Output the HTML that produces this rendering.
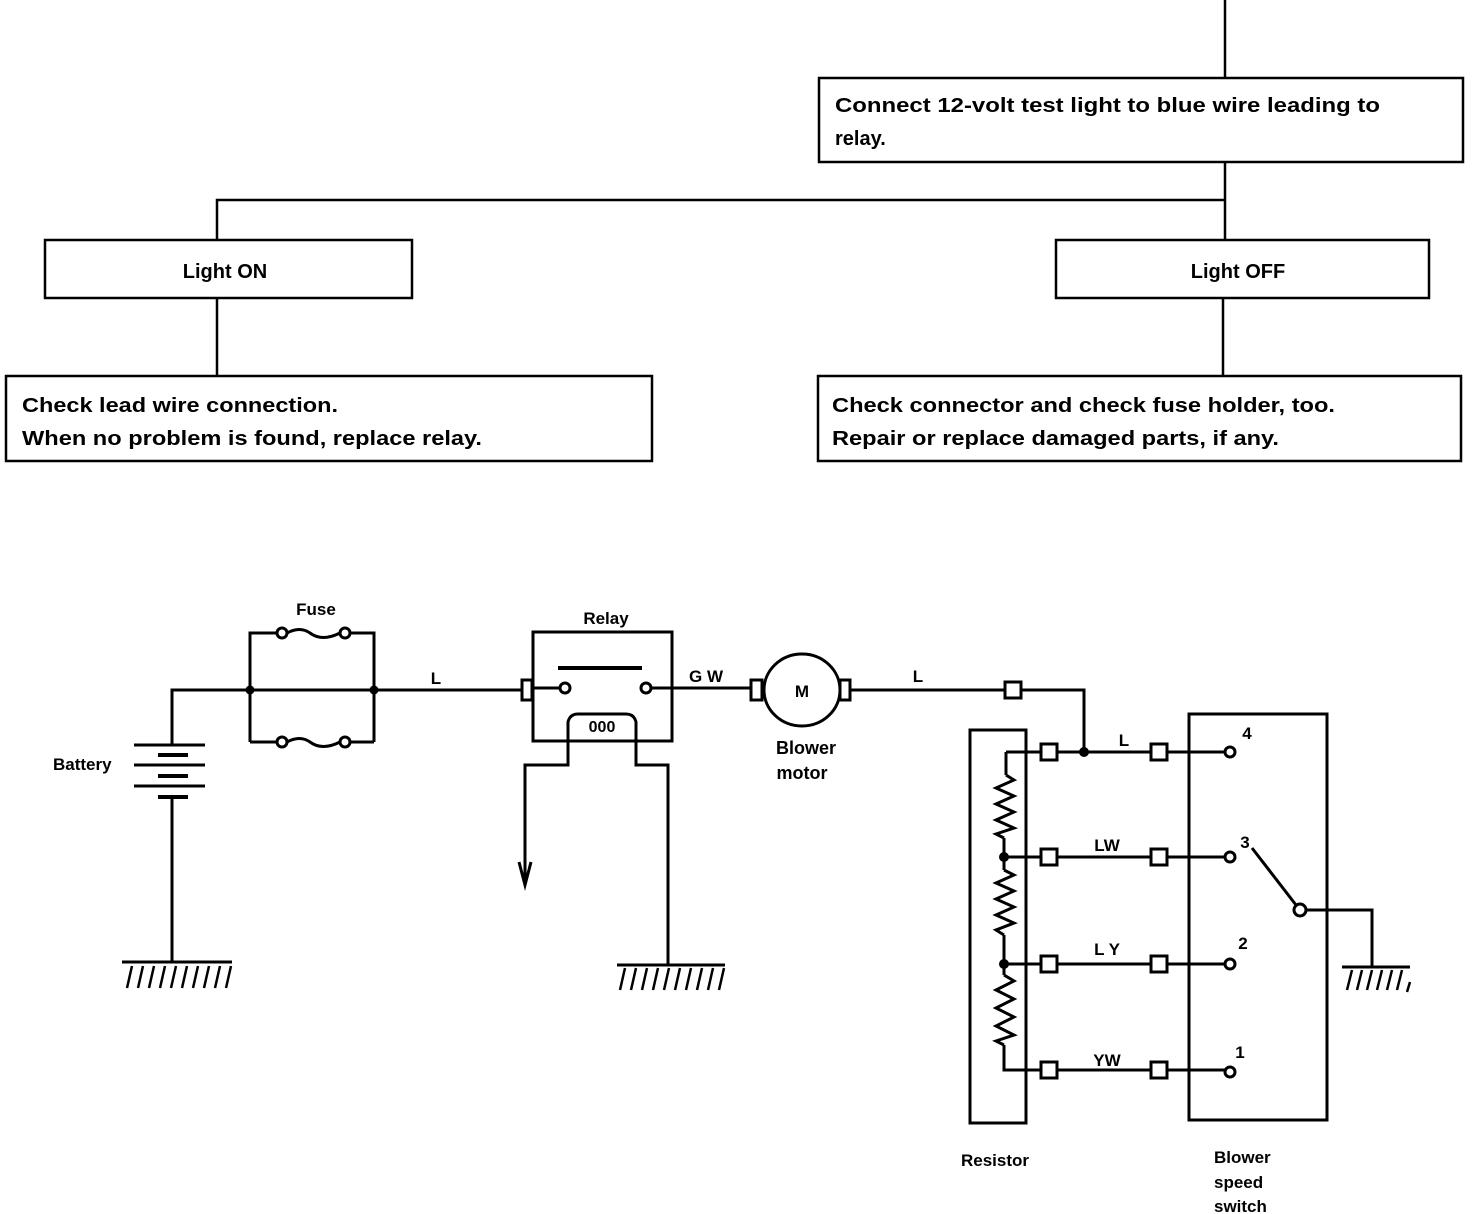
<!DOCTYPE html>
<html><head><meta charset="utf-8"><style>
html,body{margin:0;padding:0;background:#fff;}
svg{display:block;}
text{font-family:"Liberation Sans",sans-serif;font-weight:bold;fill:#000;}
</style></head><body>
<svg width="1472" height="1214" viewBox="0 0 1472 1214" xmlns="http://www.w3.org/2000/svg">
<g fill="none" stroke="#000" stroke-width="2.5">
<line x1="1225" y1="0" x2="1225" y2="78"/>
<rect x="819" y="78" width="644" height="84"/>
<polyline points="1225,162 1225,240"/>
<polyline points="217,240 217,200 1225,200"/>
<rect x="45" y="240" width="367" height="58"/>
<rect x="1056" y="240" width="373" height="58"/>
<line x1="217" y1="298" x2="217" y2="376"/>
<line x1="1223" y1="298" x2="1223" y2="376"/>
<rect x="6" y="376" width="646" height="85"/>
<rect x="818" y="376" width="643" height="85"/>
</g>
<g font-size="20">
<text x="835" y="112" textLength="545" lengthAdjust="spacingAndGlyphs">Connect 12-volt test light to blue wire leading to</text>
<text x="835" y="145">relay.</text>
<text x="225" y="278" text-anchor="middle">Light ON</text>
<text x="1238" y="278" text-anchor="middle">Light OFF</text>
<text x="22" y="412" textLength="316" lengthAdjust="spacingAndGlyphs">Check lead wire connection.</text>
<text x="22" y="445" textLength="460" lengthAdjust="spacingAndGlyphs">When no problem is found, replace relay.</text>
<text x="832" y="412" textLength="503" lengthAdjust="spacingAndGlyphs">Check connector and check fuse holder, too.</text>
<text x="832" y="445" textLength="447" lengthAdjust="spacingAndGlyphs">Repair or replace damaged parts, if any.</text>
</g>

<g fill="none" stroke="#000" stroke-width="3">
<polyline points="172,745 172,690 374,690"/>
<line x1="134" y1="745" x2="205" y2="745" />
<line x1="158" y1="755" x2="188" y2="755" stroke-width="4"/>
<line x1="134" y1="765" x2="205" y2="765"/>
<line x1="158" y1="776" x2="188" y2="776" stroke-width="4"/>
<line x1="134" y1="786" x2="205" y2="786"/>
<line x1="158" y1="797" x2="188" y2="797" stroke-width="4"/>
<line x1="172" y1="797" x2="172" y2="962"/>
<line x1="122" y1="962" x2="232" y2="962"/>
<polyline points="250,742 250,633 277,633"/>
<polyline points="374,742 374,633 350,633"/>
<circle cx="282" cy="633" r="5"/><circle cx="345" cy="633" r="5"/>
<path d="M287,633 Q300,626 310,633 Q322,642 340,633"/>
<polyline points="250,742 277,742"/><polyline points="374,742 350,742"/>
<circle cx="282" cy="742" r="5"/><circle cx="345" cy="742" r="5"/>
<path d="M287,742 Q300,735 310,742 Q322,751 340,742"/>
<line x1="374" y1="690" x2="522" y2="690"/>
<rect x="533" y="632" width="139" height="109"/>
<rect x="522" y="680" width="10" height="20"/>
<line x1="532" y1="688" x2="560" y2="688"/>
<circle cx="565" cy="688" r="5"/><circle cx="646" cy="688" r="5"/>
<line x1="558" y1="668" x2="642" y2="668" stroke-width="4"/>
<path d="M568,741 L568,722 Q570,714 578,714 L626,714 Q634,714 636,722 L636,741"/>
<polyline points="568,741 568,765 525,765 525,885"/>
<polyline points="519,862 525,885 531,862"/>
<polyline points="636,741 636,765 668,765 668,965"/>
<line x1="617" y1="965" x2="725" y2="965"/>
<line x1="651" y1="688" x2="750" y2="688"/>
<rect x="751" y="680" width="11" height="20"/>
<ellipse cx="802" cy="690" rx="38" ry="36"/>
<rect x="840" y="680" width="10" height="20"/>
<line x1="850" y1="690" x2="1005" y2="690"/>
<rect x="1005" y="682" width="16" height="16"/>
<polyline points="1021,690 1084,690 1084,752"/>
<rect x="970" y="730" width="56" height="393"/>
<rect x="1189" y="714" width="138" height="406"/>
<line x1="1006" y1="752" x2="1225" y2="752"/>
<line x1="1004" y1="857" x2="1225" y2="857"/>
<line x1="1004" y1="964" x2="1225" y2="964"/>
<line x1="1006" y1="1070" x2="1225" y2="1070"/>
<path d="M1006,752 L1006,775 M1004,838 L1004,870 M1004,935 L1004,975 M1004,1045 L1004,1070 L1010,1070"/>
<path d="M1006,775 L1014,780 L996,788 L1014,796 L996,804 L1014,812 L996,820 L1014,828 L996,834 L1004,838"/>
<path d="M1004,870 L1014,875 L996,883 L1014,891 L996,899 L1014,907 L996,915 L1014,923 L996,930 L1004,935"/>
<path d="M1004,975 L1014,981 L996,990 L1014,999 L996,1008 L1014,1017 L996,1026 L1014,1035 L996,1041 L1004,1045"/>
<polyline points="1305,910 1372,910 1372,967"/>
<line x1="1342" y1="967" x2="1410" y2="967"/>
<line x1="1252" y1="848" x2="1296" y2="905"/>
</g>
<g fill="#fff" stroke="#000" stroke-width="3">
<rect x="1041" y="744" width="16" height="16"/><rect x="1151" y="744" width="16" height="16"/>
<rect x="1041" y="849" width="16" height="16"/><rect x="1151" y="849" width="16" height="16"/>
<rect x="1041" y="956" width="16" height="16"/><rect x="1151" y="956" width="16" height="16"/>
<rect x="1041" y="1062" width="16" height="16"/><rect x="1151" y="1062" width="16" height="16"/>
<circle cx="1230" cy="752" r="5"/><circle cx="1230" cy="857" r="5"/>
<circle cx="1230" cy="964" r="5"/><circle cx="1230" cy="1072" r="5"/>
<circle cx="1300" cy="910" r="6"/>
</g>
<g fill="#000">
<circle cx="250" cy="690" r="4.5"/><circle cx="374" cy="690" r="4.5"/>
<circle cx="1084" cy="752" r="5"/><circle cx="1004" cy="857" r="5"/><circle cx="1004" cy="964" r="5"/>
</g>
<g stroke="#000" stroke-width="2.5">
<path d="M127,988 L132,966 M138,988 L143,966 M149,988 L154,966 M160,988 L165,966 M171,988 L176,966 M182,988 L187,966 M193,988 L198,966 M204,988 L209,966 M215,988 L220,966 M226,988 L231,966"/>
<path d="M620,990 L625,968 M631,990 L636,968 M642,990 L647,968 M653,990 L658,968 M664,990 L669,968 M675,990 L680,968 M686,990 L691,968 M697,990 L702,968 M708,990 L713,968 M719,990 L724,968"/>
<path d="M1347,990 L1352,970 M1357,990 L1362,970 M1367,990 L1372,970 M1377,990 L1382,970 M1387,990 L1392,970 M1397,990 L1402,970 M1407,992 L1410,982"/>
</g>
<g font-size="17">
<text x="316" y="615" text-anchor="middle">Fuse</text>
<text x="606" y="624" text-anchor="middle">Relay</text>
<text x="53" y="770">Battery</text>
<text x="436" y="684" text-anchor="middle">L</text>
<text x="706" y="682" text-anchor="middle">G W</text>
<text x="602" y="732" text-anchor="middle" font-size="16">000</text>
<text x="802" y="697" text-anchor="middle">M</text>
<text x="806" y="754" text-anchor="middle" font-size="18">Blower</text>
<text x="802" y="779" text-anchor="middle" font-size="18">motor</text>
<text x="918" y="682" text-anchor="middle">L</text>
<text x="1124" y="746" text-anchor="middle">L</text>
<text x="1107" y="851" text-anchor="middle">LW</text>
<text x="1107" y="955" text-anchor="middle">L Y</text>
<text x="1107" y="1066" text-anchor="middle">YW</text>
<text x="1247" y="739" text-anchor="middle">4</text>
<text x="1245" y="848" text-anchor="middle">3</text>
<text x="1243" y="949" text-anchor="middle">2</text>
<text x="1240" y="1058" text-anchor="middle">1</text>
<text x="995" y="1166" text-anchor="middle">Resistor</text>
<text x="1214" y="1163">Blower</text>
<text x="1214" y="1188">speed</text>
<text x="1214" y="1212">switch</text>
</g>
</svg>
</body></html>
